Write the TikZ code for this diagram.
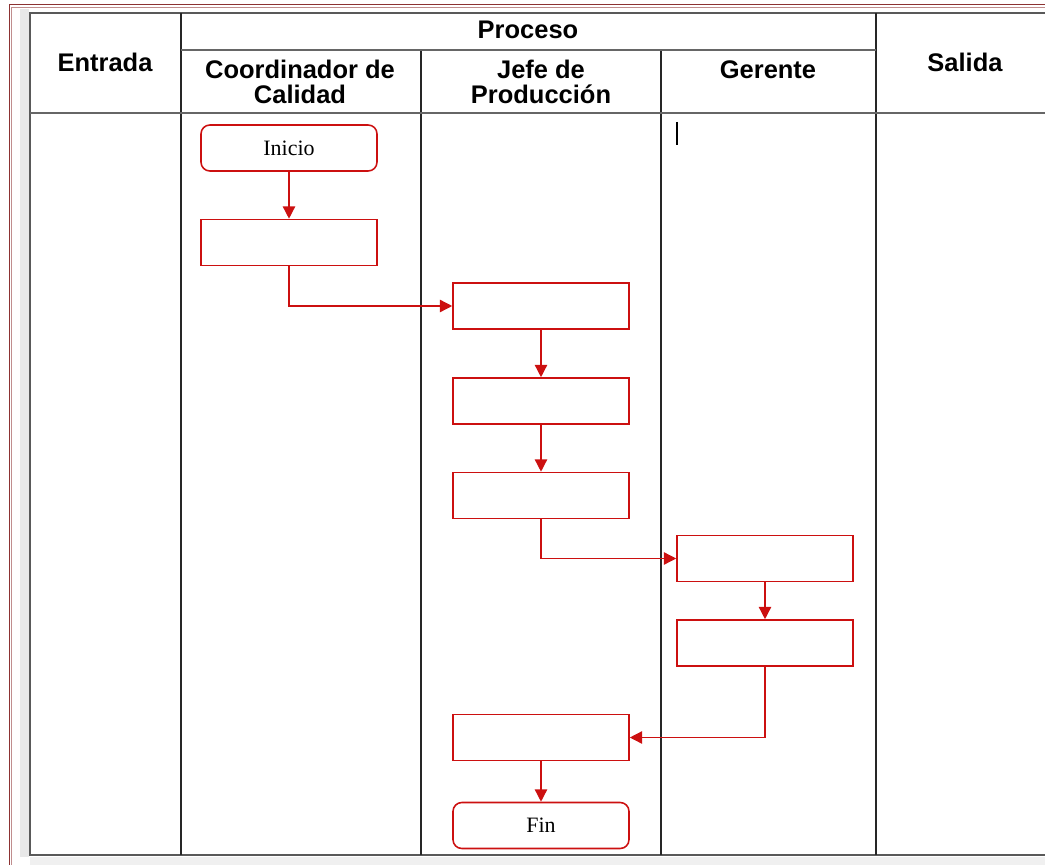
\documentclass[tikz,border=0pt]{standalone}
\usepackage{fontspec}
\setmainfont{Liberation Serif}
\newfontfamily\headfont{Liberation Sans}
\usetikzlibrary{arrows.meta}

\definecolor{flujo}{RGB}{204,16,16}
\definecolor{marco}{RGB}{140,50,50}

\tikzset{
  paso/.style={draw=flujo, line width=0.9pt, minimum width=3.52cm, minimum height=0.92cm, inner sep=0pt, font=\fontsize{12.5}{14}\selectfont},
  extremo/.style={paso, rounded corners=5pt},
  flecha/.style={draw=flujo, line width=0.8pt, -{Triangle[length=7pt,width=7pt]}},
  titulo/.style={font=\headfont\bfseries\fontsize{14.5}{14.2}\selectfont, align=center},
  linea/.style={black!85, line width=0.9pt}
}

\begin{document}
\begin{tikzpicture}[x=0.02cm,y=-0.02cm]
    \useasboundingbox (0,0) rectangle (1045,865);

    % marco de la hoja
    \fill[gray!18] (20,9) rectangle (29,857);
    \fill[gray!12] (30,857) rectangle (1045,865);
    \draw[marco, line width=0.5pt] (9,865) -- (9,4.5) -- (1045,4.5);
    \draw[marco!55, line width=0.4pt] (11.5,865) -- (11.5,7) -- (1045,7);

    % tabla
    \draw[black!65, line width=1.6pt] (1045,13) -- (30,13) -- (30,855) -- (1045,855);
    \draw[linea] (181,13) -- (181,855);
    \draw[linea] (876,13) -- (876,855);
    \draw[linea] (421,50) -- (421,855);
    \draw[linea] (661,50) -- (661,855);
    \draw[black!60, line width=1pt] (181,50) -- (876,50);
    \draw[black!60, line width=1.2pt] (30,113) -- (1045,113);

    \node[titulo] (entrada) at (105,62) {Entrada};
    \node[titulo] (proceso) at (528,30) {Proceso};
    \node[titulo] (coord) at (300,82) {Coordinador de\\Calidad};
    \node[titulo] (jefe) at (541,82) {Jefe de\\Producción};
    \node[titulo] (gerente) at (768,70) {Gerente};
    \node[titulo] (salida) at (965,62) {Salida};

    \draw[line width=1.2pt] (677,122) -- (677,145);

    % pasos
    \node[extremo] (inicio) at (289,148) {Inicio};
    \node[paso] (p1) at (289,242.5) {};
    \node[paso] (p2) at (541,306) {};
    \node[paso] (p3) at (541,401) {};
    \node[paso] (p4) at (541,495.5) {};
    \node[paso] (p5) at (765,558.5) {};
    \node[paso] (p6) at (765,643) {};
    \node[paso] (p7) at (541,737.5) {};
    \node[extremo] (fin) at (541,825.5) {Fin};

    \draw[flecha] (inicio) -- (p1);
    \draw[flecha] (p1.south) |- (p2.west);
    \draw[flecha] (p2) -- (p3);
    \draw[flecha] (p3) -- (p4);
    \draw[flecha] (p4.south) |- (p5.west);
    \draw[flecha] (p5) -- (p6);
    \draw[flecha] (p6.south) |- (p7.east);
    \draw[flecha] (p7) -- (fin);
\end{tikzpicture}
\end{document}
